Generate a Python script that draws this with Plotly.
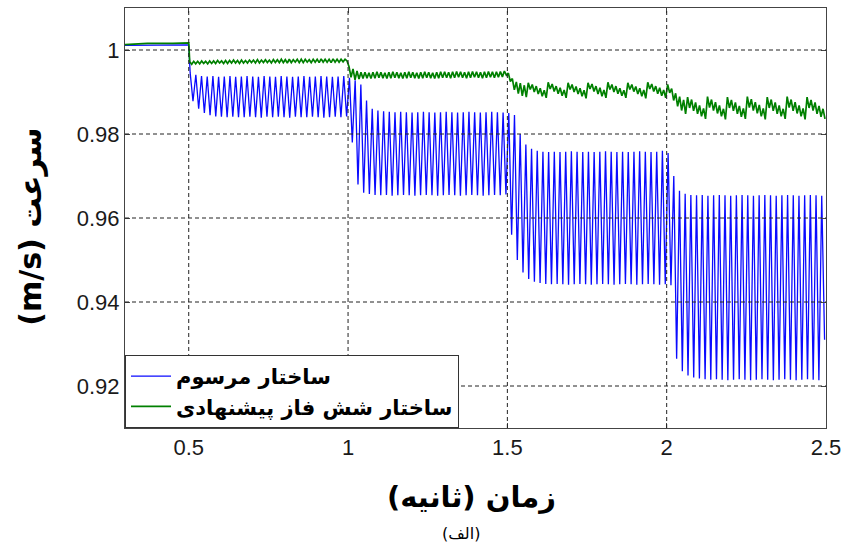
import plotly.graph_objects as go

# ---- time axis / tick labels ----
x_ticks = [0.5, 1.0, 1.5, 2.0, 2.5]
x_tick_text = ["0.5", "1", "1.5", "2", "2.5"]
y_ticks = [0.92, 0.94, 0.96, 0.98, 1.00]
y_tick_text = ["0.92", "0.94", "0.96", "0.98", "1"]
x_range = [0.3, 2.5]
y_range = [0.91, 1.01]

# load steps start at these instants (s); each step lasts 0.5 s
seg_starts = [0.5, 1.0, 1.5, 2.0]
seg_len = 0.5

# ---- conventional structure (blue): speed before the first step ----
blue_pre_t = [0.30, 0.40, 0.45, 0.50]
blue_pre_v = [1.0011, 1.0011, 1.0012, 1.0012]

# per-cycle ripple peaks / troughs in each load step
blue_top_1 = [0.9946, 0.9941, 0.9938, 0.9937, 0.9938, 0.9936, 0.9937, 0.9938, 0.9936, 0.9937,
              0.9938, 0.9937, 0.9936, 0.9938, 0.9937, 0.9936, 0.9938, 0.9937, 0.9936, 0.9937,
              0.9938, 0.9936, 0.9937, 0.9938, 0.9937, 0.9936, 0.9937, 0.9938]
blue_bot_1 = [0.9878, 0.9860, 0.9850, 0.9845, 0.9842, 0.9841, 0.9840, 0.9841, 0.9840, 0.9840,
              0.9841, 0.9840, 0.9839, 0.9841, 0.9840, 0.9841, 0.9840, 0.9839, 0.9841, 0.9840,
              0.9840, 0.9841, 0.9840, 0.9839, 0.9840, 0.9841, 0.9840, 0.9842]
blue_top_2 = [0.9934, 0.9928, 0.9918, 0.9880, 0.9860, 0.9856, 0.9854, 0.9853, 0.9852, 0.9853,
              0.9852, 0.9851, 0.9852, 0.9853, 0.9852, 0.9851, 0.9852, 0.9853, 0.9852, 0.9851,
              0.9852, 0.9853, 0.9852, 0.9851, 0.9852, 0.9853, 0.9852, 0.9851]
blue_bot_2 = [0.9780, 0.9680, 0.9660, 0.9657, 0.9655, 0.9654, 0.9655, 0.9653, 0.9654, 0.9655,
              0.9654, 0.9653, 0.9654, 0.9655, 0.9654, 0.9653, 0.9654, 0.9655, 0.9654, 0.9653,
              0.9654, 0.9655, 0.9654, 0.9653, 0.9654, 0.9655, 0.9654, 0.9656]
blue_top_3 = [0.9850, 0.9845, 0.9800, 0.9775, 0.9765, 0.9760, 0.9758, 0.9757, 0.9758, 0.9757,
              0.9758, 0.9759, 0.9758, 0.9757, 0.9758, 0.9757, 0.9758, 0.9759, 0.9758, 0.9757,
              0.9758, 0.9757, 0.9758, 0.9759, 0.9758, 0.9757, 0.9758, 0.9760]
blue_bot_3 = [0.9560, 0.9500, 0.9470, 0.9455, 0.9448, 0.9445, 0.9443, 0.9442, 0.9443, 0.9442,
              0.9441, 0.9442, 0.9443, 0.9442, 0.9441, 0.9442, 0.9443, 0.9442, 0.9441, 0.9442,
              0.9443, 0.9442, 0.9441, 0.9442, 0.9443, 0.9442, 0.9441, 0.9442]
blue_top_4 = [0.9755, 0.9700, 0.9665, 0.9658, 0.9655, 0.9654, 0.9655, 0.9653, 0.9654, 0.9655,
              0.9654, 0.9653, 0.9654, 0.9655, 0.9654, 0.9653, 0.9654, 0.9655, 0.9654, 0.9653,
              0.9654, 0.9655, 0.9654, 0.9653, 0.9654, 0.9655, 0.9654, 0.9653]
blue_bot_4 = [0.9440, 0.9265, 0.9235, 0.9225, 0.9220, 0.9218, 0.9216, 0.9215, 0.9216, 0.9215,
              0.9214, 0.9215, 0.9216, 0.9215, 0.9214, 0.9215, 0.9216, 0.9215, 0.9214, 0.9215,
              0.9216, 0.9215, 0.9214, 0.9215, 0.9216, 0.9215, 0.9214, 0.9310]

# ---- proposed six-phase structure (green) ----
green_pre_t = [0.30, 0.37, 0.45, 0.50]
green_pre_v = [1.0013, 1.0016, 1.0016, 1.0017]

green_top_1 = [0.9972, 0.9973, 0.9973, 0.9974, 0.9973, 0.9974, 0.9974, 0.9975, 0.9974, 0.9975,
               0.9975, 0.9976, 0.9975, 0.9976, 0.9975, 0.9976, 0.9976, 0.9977, 0.9976, 0.9977,
               0.9976, 0.9977, 0.9977, 0.9978, 0.9977, 0.9978, 0.9977, 0.9978, 0.9978, 0.9978,
               0.9977, 0.9978, 0.9978, 0.9979, 0.9978, 0.9978, 0.9979, 0.9978, 0.9978, 0.9978]
green_bot_1 = [0.9966, 0.9967, 0.9967, 0.9968, 0.9967, 0.9968, 0.9968, 0.9969, 0.9968, 0.9968,
               0.9969, 0.9969, 0.9968, 0.9969, 0.9969, 0.9970, 0.9969, 0.9969, 0.9970, 0.9970,
               0.9969, 0.9970, 0.9970, 0.9970, 0.9969, 0.9970, 0.9971, 0.9970, 0.9970, 0.9971,
               0.9970, 0.9971, 0.9970, 0.9971, 0.9971, 0.9970, 0.9971, 0.9971, 0.9972, 0.9974]
green_top_2 = [0.9960, 0.9955, 0.9950, 0.9947, 0.9947, 0.9946, 0.9947, 0.9948, 0.9947, 0.9946,
               0.9947, 0.9948, 0.9947, 0.9946, 0.9947, 0.9948, 0.9947, 0.9946, 0.9947, 0.9948,
               0.9947, 0.9946, 0.9947, 0.9948, 0.9948, 0.9947, 0.9948, 0.9949, 0.9948, 0.9947,
               0.9948, 0.9949, 0.9948, 0.9947, 0.9948, 0.9949, 0.9948, 0.9948, 0.9949, 0.9950]
green_bot_2 = [0.9935, 0.9929, 0.9931, 0.9932, 0.9933, 0.9932, 0.9933, 0.9934, 0.9933, 0.9932,
               0.9933, 0.9934, 0.9933, 0.9932, 0.9933, 0.9934, 0.9933, 0.9932, 0.9933, 0.9934,
               0.9933, 0.9932, 0.9933, 0.9934, 0.9934, 0.9933, 0.9934, 0.9935, 0.9934, 0.9933,
               0.9934, 0.9935, 0.9934, 0.9933, 0.9934, 0.9935, 0.9934, 0.9935, 0.9936, 0.9940]
green_top_3 = [0.9945, 0.9932, 0.9924, 0.9921, 0.9916,
               0.9922, 0.9918, 0.9914, 0.9909, 0.9904,
               0.9923, 0.9919, 0.9914, 0.9910, 0.9905,
               0.9922, 0.9918, 0.9913, 0.9909, 0.9904,
               0.9922, 0.9919, 0.9914, 0.9910, 0.9905,
               0.9923, 0.9918, 0.9914, 0.9909, 0.9904,
               0.9922, 0.9918, 0.9913, 0.9909, 0.9905,
               0.9923, 0.9919, 0.9914, 0.9910, 0.9905]
green_bot_3 = [0.9925, 0.9905, 0.9896, 0.9891, 0.9888,
               0.9906, 0.9900, 0.9895, 0.9890, 0.9886,
               0.9907, 0.9901, 0.9896, 0.9891, 0.9886,
               0.9906, 0.9900, 0.9895, 0.9890, 0.9885,
               0.9907, 0.9901, 0.9895, 0.9890, 0.9886,
               0.9906, 0.9900, 0.9896, 0.9891, 0.9886,
               0.9906, 0.9901, 0.9895, 0.9890, 0.9885,
               0.9907, 0.9901, 0.9896, 0.9891, 0.9886]
green_top_4 = [0.9918, 0.9908, 0.9897, 0.9889, 0.9881,
               0.9888, 0.9882, 0.9875, 0.9868, 0.9861,
               0.9889, 0.9882, 0.9876, 0.9868, 0.9860,
               0.9888, 0.9881, 0.9875, 0.9867, 0.9861,
               0.9889, 0.9883, 0.9876, 0.9869, 0.9861,
               0.9888, 0.9882, 0.9875, 0.9868, 0.9860,
               0.9889, 0.9882, 0.9876, 0.9868, 0.9861,
               0.9888, 0.9881, 0.9875, 0.9867, 0.9860]
green_bot_4 = [0.9898, 0.9880, 0.9866, 0.9856, 0.9848,
               0.9862, 0.9855, 0.9848, 0.9842, 0.9836,
               0.9863, 0.9856, 0.9849, 0.9842, 0.9835,
               0.9862, 0.9855, 0.9848, 0.9841, 0.9836,
               0.9863, 0.9856, 0.9849, 0.9842, 0.9835,
               0.9862, 0.9855, 0.9848, 0.9842, 0.9836,
               0.9863, 0.9855, 0.9849, 0.9842, 0.9835,
               0.9862, 0.9856, 0.9848, 0.9841, 0.9836]

blue_name = "ساختار مرسوم"
green_name = "ساختار شش فاز پیشنهادی"
x_title = "\u202bزمان (ثانیه)\u202c"
y_title = "(m/s) سرعت"
caption = "\u202b(الف)\u202c"


def ripple_series(pre_t, pre_v, tops, bots):
    """Join the pre-step samples with the per-cycle peak/trough samples."""
    t, v = list(pre_t), list(pre_v)
    for start, top, bot in zip(seg_starts, tops, bots):
        period = seg_len / len(top)
        for k, (hi, lo) in enumerate(zip(top, bot)):
            t += [start + (k + 0.25) * period, start + (k + 0.75) * period]
            v += [hi, lo]
    return t, v


bt, bv = ripple_series(blue_pre_t, blue_pre_v,
                       [blue_top_1, blue_top_2, blue_top_3, blue_top_4],
                       [blue_bot_1, blue_bot_2, blue_bot_3, blue_bot_4])
gt, gv = ripple_series(green_pre_t, green_pre_v,
                       [green_top_1, green_top_2, green_top_3, green_top_4],
                       [green_bot_1, green_bot_2, green_bot_3, green_bot_4])

fig = go.Figure()
fig.add_trace(go.Scatter(x=bt, y=bv, mode="lines", name=blue_name,
                         line=dict(color="#0a0aff", width=1.3)))
fig.add_trace(go.Scatter(x=gt, y=gv, mode="lines", name=green_name,
                         line=dict(color="#008000", width=1.7)))

# dotted grid drawn over the curves
grid = dict(color="#222222", width=1, dash="4px,3px")
shapes = []
for yv in y_ticks:
    shapes.append(dict(type="line", xref="paper", x0=0, x1=1, yref="y", y0=yv, y1=yv,
                       line=grid, layer="above"))
for xv in x_ticks:
    if xv < x_range[1]:
        shapes.append(dict(type="line", xref="x", x0=xv, x1=xv, yref="paper", y0=0, y1=1,
                           line=grid, layer="above"))

tick_font = dict(family="Liberation Sans, Arial, sans-serif", size=22, color="#1a1a1a")
fa_font = "DejaVu Sans, Liberation Sans, sans-serif"

axis_common = dict(showgrid=False, zeroline=False, showline=True, mirror="ticks",
                   linecolor="#444444", linewidth=1, ticks="inside", ticklen=5,
                   tickcolor="#444444", tickfont=tick_font)

fig.update_layout(
    width=848, height=545,
    margin=dict(l=125, r=22, t=8, b=117),
    paper_bgcolor="white", plot_bgcolor="white",
    showlegend=True,
    legend=dict(x=0, y=0, xanchor="left", yanchor="bottom",
                bgcolor="white", bordercolor="#333333", borderwidth=1,
                font=dict(family=fa_font, size=21, color="black", weight="bold"),
                itemwidth=40, tracegroupgap=0),
    shapes=shapes,
    annotations=[
        dict(text=y_title, xref="paper", yref="paper", x=-0.135, y=0.48,
             showarrow=False, textangle=-90, xanchor="center", yanchor="middle",
             font=dict(family=fa_font, size=30, color="black", weight="bold")),
        dict(text=x_title, xref="paper", yref="paper", x=0.495, y=-0.165,
             showarrow=False, xanchor="center", yanchor="middle",
             font=dict(family=fa_font, size=29, color="black", weight="bold")),
        dict(text=caption, xref="paper", yref="paper", x=0.48, y=-0.25,
             showarrow=False, xanchor="center", yanchor="middle",
             font=dict(family=fa_font, size=16, color="black")),
    ],
)
fig.update_xaxes(range=x_range, tickvals=x_ticks, ticktext=x_tick_text, **axis_common)
fig.update_yaxes(range=y_range, tickvals=y_ticks, ticktext=y_tick_text, **axis_common)

fig.write_html("out.html")
